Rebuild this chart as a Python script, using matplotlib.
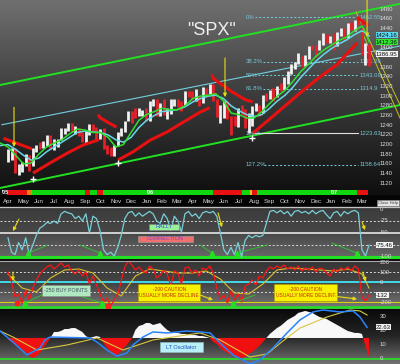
import numpy as np
import matplotlib
matplotlib.use("Agg")
import matplotlib.pyplot as plt
from matplotlib.colors import LinearSegmentedColormap
from matplotlib.patches import Rectangle

plt.rcParams['font.family'] = ['Liberation Sans', 'DejaVu Sans']

# ---------------- data ----------------
# weekly SPX bars, week ending 2005-04-01 ... 2007-03-16
spx_high = [1190, 1192, 1192, 1160, 1165,
            1180, 1178, 1192, 1199,
            1205, 1207, 1219, 1220,
            1212, 1212, 1235, 1235, 1245,
            1245, 1238, 1235, 1225,
            1228, 1243, 1243, 1236, 1232,
            1234, 1200, 1196, 1200,
            1225, 1235, 1249, 1270,
            1270, 1275, 1275, 1272, 1275,
            1290, 1295, 1295, 1286,
            1294, 1275, 1295, 1294,
            1295, 1290, 1310, 1310, 1310,
            1314, 1300, 1318, 1316,
            1326, 1326, 1295, 1281,
            1290, 1290, 1260, 1260, 1275,
            1282, 1274, 1265, 1280,
            1285, 1281, 1302, 1307,
            1312, 1316, 1322, 1328, 1340,
            1352, 1366, 1370, 1390,
            1382, 1384, 1403, 1405,
            1406, 1415, 1431, 1429, 1425,
            1430, 1432, 1441, 1440,
            1452, 1453, 1457, 1462,
            1456, 1410, 1408]
spx_low = [1163, 1168, 1142, 1137, 1143,
           1155, 1146, 1155, 1185,
           1190, 1192, 1197, 1190,
           1189, 1195, 1210, 1221, 1228,
           1225, 1222, 1218, 1205,
           1201, 1220, 1225, 1210, 1212,
           1191, 1181, 1176, 1176,
           1198, 1218, 1226, 1248,
           1245, 1255, 1258, 1259, 1248,
           1248, 1280, 1260, 1260,
           1262, 1253, 1263, 1280,
           1278, 1270, 1282, 1298, 1293,
           1290, 1280, 1286, 1300,
           1305, 1290, 1256, 1245,
           1255, 1252, 1219, 1238, 1237,
           1262, 1234, 1224, 1238,
           1270, 1260, 1265, 1290,
           1295, 1290, 1298, 1310, 1314,
           1326, 1345, 1357, 1366,
           1360, 1362, 1376, 1395,
           1380, 1395, 1405, 1410, 1409,
           1395, 1403, 1425, 1417,
           1420, 1437, 1434, 1448,
           1384, 1364, 1363]
spx_close = [1172, 1181, 1142, 1152, 1156,
             1171, 1154, 1189, 1198,
             1196, 1201, 1216, 1191,
             1211, 1211, 1228, 1234, 1234,
             1226, 1230, 1220, 1205,
             1218, 1241, 1237, 1215, 1229,
             1195, 1187, 1177, 1198,
             1220, 1234, 1248, 1268,
             1265, 1259, 1268, 1268, 1248,
             1285, 1288, 1262, 1283,
             1264, 1266, 1287, 1289,
             1288, 1282, 1307, 1302, 1295,
             1295, 1289, 1311, 1310,
             1325, 1291, 1267, 1280,
             1288, 1252, 1251, 1244, 1270,
             1265, 1236, 1240, 1278,
             1279, 1266, 1302, 1295,
             1311, 1299, 1321, 1314, 1336,
             1350, 1365, 1368, 1377,
             1364, 1380, 1401, 1400,
             1397, 1409, 1427, 1410, 1418,
             1409, 1430, 1430, 1422,
             1449, 1438, 1456, 1451,
             1387, 1402, 1387]

# moving averages (month index, 0 = Apr 2005)
ma_months = [-0.5, 0, 0.5, 1, 1.5, 2, 2.5, 3, 3.5, 4, 4.5, 5, 5.5, 6, 6.5, 7, 7.5,
             8, 8.5, 9, 9.5, 10, 10.5, 11, 11.5, 12, 12.5, 13, 13.5, 14, 14.5, 15,
             15.5, 16, 16.5, 17, 17.5, 18, 18.5, 19, 19.5, 20, 20.5, 21, 21.5, 22,
             22.5, 23, 23.25, 23.46]
ma_fast = [1203, 1195, 1178, 1160, 1162, 1180, 1195, 1203, 1210, 1222, 1232, 1230,
           1225, 1225, 1215, 1195, 1200, 1225, 1250, 1262, 1268, 1275, 1272, 1272,
           1280, 1295, 1300, 1302, 1305, 1290, 1265, 1262, 1255, 1255, 1268, 1285,
           1300, 1312, 1330, 1350, 1365, 1382, 1395, 1405, 1415, 1422, 1435, 1445,
           1430, 1412.36]
ma_slow = [1198, 1200, 1190, 1178, 1168, 1172, 1185, 1195, 1205, 1215, 1225, 1228,
           1226, 1225, 1220, 1210, 1205, 1215, 1235, 1250, 1260, 1268, 1270, 1272,
           1278, 1288, 1295, 1300, 1302, 1295, 1280, 1270, 1262, 1258, 1262, 1275,
           1290, 1302, 1318, 1338, 1355, 1372, 1386, 1398, 1408, 1416, 1427, 1435,
           1430, 1424.16]

# trailing stop segments (month, price)
stop_segments = [
    [(-0.3, 1213), (1.56, 1191)],
    [(1.62, 1141), (2.73, 1162), (3.83, 1182), (4.87, 1199), (5.9, 1210)],
    [(5.85, 1262), (6.0, 1255), (6.6, 1244), (7.05, 1236)],
    [(7.15, 1168), (8.12, 1185), (9.23, 1209), (10.33, 1226), (11.37, 1246),
     (12.48, 1267), (13.1, 1276)],
    [(13.25, 1345), (13.32, 1337), (14.55, 1309), (15.4, 1293), (15.9, 1288)],
    [(15.92, 1224), (16.9, 1250), (18.0, 1280), (19.1, 1310), (20.2, 1338),
     (21.4, 1366), (22.68, 1410)],
    [(22.68, 1463), (23.4, 1446)],
]
signal_marks = [(1.62, 1129), (7.15, 1162), (15.85, 1213)]

channel_upper = [(-0.52, 1323.0), (25.47, 1490.7)]
channel_mid = [(-0.4, 1241.0), (25.47, 1403.6)]
channel_lower = [(-0.52, 1110.3), (25.47, 1281.7)]
down_lines = [[(22.61, 1473.8), (25.47, 1281.8)],
              [(23.0, 1432.5), (25.47, 1254.9)]]
price_arrows = [((0.39, 1277), (0.39, 1195)),
                ((14.1, 1379), (14.1, 1298)),
                ((23.33, 1499), (23.33, 1422))]

fib_levels = [1462.55, 1371.26, 1343.09, 1314.9, 1223.63, 1158.64]
fib_names = ['0%', '38.2%', '50%', '61.8%', '100%', '127.2%']
fib_value_text = ['1462.55', '1371.26', '1343.09', '1314.9', '1223.63', '1158.64']
fib_start = [16.05, 16.57, 16.24, 16.57, 15.92, 16.63]
fib_end = 22.74

month_names = ['Apr', 'May', 'Jun', 'Jul', 'Aug', 'Sep', 'Oct', 'Nov', 'Dec',
               'Jan', 'Feb', 'Mar', 'Apr', 'May', 'Jun', 'Jul', 'Aug', 'Sep',
               'Oct', 'Nov', 'Dec', 'Jan', 'Feb', 'Mar']
trend_start = [-0.07, 1.23, 1.56, 5.0, 5.33, 5.78, 6.17, 13.32, 15.2, 15.72, 15.85, 16.18, 22.68]
trend_end = [1.23, 1.56, 5.0, 5.33, 5.78, 6.17, 13.32, 15.2, 15.72, 15.85, 16.18, 22.68, 23.39]
trend_color = ['#e81010', '#e88010', '#10d810', '#e81010', '#10d810', '#e81010', '#10d810',
               '#e81010', '#10d810', '#e8c010', '#e81010', '#10d810', '#e81010']

# weekly oscillators
williams = [-60, -90, -95, -70, -85, -60, -95, -75, -55, -40,
            -35, -28, -30, -25, -30, -10, -5, -8, -10, -20,
            -15, -25, -10, -50, -15, -20, -45, -85, -95, -90,
            -98, -80, -55, -20, -8, -5, -15, -8, -15, -10,
            -5, -10, -25, -30, -10, -20, -45, -15, -25, -48,
            -10, -5, -15, -10, -20, -8, -5, -8, -5, -15,
            -50, -85, -95, -80, -95, -70, -100, -65, -55, -60,
            -55, -58, -55, -30, -5, -3, -8, -3, -10, -5,
            -15, -5, -3, -8, -5, -10, -3, -10, -5, -3,
            -12, -20, -8, -5, -15, -5, -10, -5, -3, -8,
            -85, -98, -75.46]
cci = [100, 0, -150, -120, -210, -80, -180, -60, 20, 80,
       120, 150, 170, 130, 160, 190, 150, 170, 110, 80,
       120, 60, 100, -20, 60, -30, -120, -200, -160, -240,
       -180, -120, 10, 150, 210, 170, 120, 150, 110, 90,
       160, 130, 40, 70, 120, 80, -40, 110, 90, -20,
       140, 150, 90, 120, 60, 140, 120, 160, 90, -60,
       -170, -130, -210, -90, -180, -120, -200, -40, -20, 20,
       -30, 60, 40, 110, 150, 130, 160, 140, 170, 130,
       150, 120, 160, 110, 140, 120, 150, 100, 140, 130,
       90, 60, 130, 100, 140, 120, 150, 110, 160, 130,
       -150, -190, -132]
cci_sig_weeks = [0, 4, 8, 12, 16, 20, 24, 28, 32, 36, 40, 44, 48, 52, 56, 60, 64,
                 68, 72, 76, 80, 84, 88, 92, 96, 100, 102]
cci_sig = [80, -60, -100, 40, 120, 130, 90, -60, -140, 60, 130, 110, 90, 90, 110,
           30, -110, -120, -20, 120, 140, 130, 120, 110, 130, 80, -60]
lt_hist = [-1, -2.9, -5, -6.4, -8.6, -10, -12.9, -14.3, -12.9, -10.7,
           -7, -3.6, 0, 4.3, 4.3, 5, 6.4, 6.4, 7.1, 7.1,
           5.7, 4.3, 1.4, 0, 0.7, 1.4, 0.7, -3.6, -7, -10,
           -12, -12, -9.3, -6.4, -3.6, -0.7, 5.7, 8.6, 9.3, 10.7,
           10.7, 9.3, 10, 10.7, 8, 5.7, 4.3, 3.6, 3.6, 2.9,
           2.9, 2.1, 2.1, 2.1, 1.4, 1.4, 0.7, 0, -2.9, -4.3,
           -7, -9.3, -10.7, -12, -12.9, -14.3, -14.3, -13.6, -11.4, -10,
           -7.9, -5.7, -2.9, 0, 2.9, 5, 7.1, 8.6, 10.7, 12.9,
           14.3, 15.7, 17.9, 18.6, 19.3, 18.6, 17.9, 16.4, 15, 14.3,
           13.6, 12.1, 10.7, 9.3, 7.9, 6.4, 5, 4.3, 3.6, 3.6,
           2.9, -5.7, -13.6]
lt_base = 15
lt_blue_m = [-0.52, 0.32, 1.23, 2.08, 2.40, 2.73, 5.33, 5.78, 6.43, 7.08, 7.73, 8.12,
             8.77, 9.42, 10.33, 11.63, 12.48, 13.13, 13.78, 14.62, 15.27, 15.72, 16.37,
             17.22, 18.13, 18.97, 19.82, 20.47, 21.57, 22.42, 22.87, 23.33]
lt_blue = [20, 12.1, 2.9, 7.9, 13.6, 15.7, 15.0, 12.1, 6.4, 2.1, 4.3, 10.0, 15.7, 19.3,
           18.6, 20.0, 19.3, 18.6, 11.4, 2.9, -0.7, -3.6, -0.7, 7.9, 18.6, 27.9, 33.6,
           35.0, 33.6, 34.3, 30.0, 22.63]
lt_yel_m = [-0.52, 0.32, 1.88, 3.83, 5.78, 7.47, 9.42, 12.48, 13.78, 15.72, 16.83,
            17.87, 18.97, 20.73, 22.22, 22.87, 23.33]
lt_yel = [20, 15.7, 6.4, 10, 15, 6.4, 13.6, 18.6, 13.6, 1.4, 3.6, 12.9, 22.1, 30, 35,
          34.3, 31.4]

# ---------------- figure ----------------
W, H = 400, 364
XMIN, XMAX = -0.52, 25.47
YEL = '#e8dc10'
GRN = '#22e022'

fig = plt.figure(figsize=(4, 3.64), dpi=100)
fig.patch.set_facecolor('#0c0c0c')


def panel(y0, y1, ylo, yhi, colors=None):
    ax = fig.add_axes([0, 1 - y1 / H, 1, (y1 - y0) / H])
    ax.set_axis_off()
    if colors:
        cmap = LinearSegmentedColormap.from_list('bg', colors)
        ax.imshow(np.linspace(0, 1, 256)[:, None], cmap=cmap, aspect='auto',
                  extent=(XMIN, XMAX, ylo, yhi), origin='upper', zorder=0)
    ax.set_xlim(XMIN, XMAX)
    ax.set_ylim(ylo, yhi)
    return ax


def rlabel(ax, y, s, fc=None, color='#dcdcdc'):
    kw = {}
    x = 0.95
    if fc:
        kw['bbox'] = dict(boxstyle='square,pad=0.08', fc=fc, ec='none')
        color = '#101010'
        x = 0.94
    ax.text(x, y, s, transform=ax.get_yaxis_transform(), fontsize=4.3,
            color=color, va='center', ha='left', zorder=20, **kw)


def arrow(ax, tail, head, color=YEL):
    ax.annotate('', xy=head, xytext=tail,
                arrowprops=dict(arrowstyle='-|>', color=color, lw=0.8,
                                mutation_scale=5, shrinkA=0, shrinkB=0), zorder=15)


weeks = np.arange(len(spx_close))
week_m = weeks * 7 / 30.44

# ---- price panel ----
ax1 = panel(0, 190, 1106.2, 1498.6, ['#707070', '#3c3c3c', '#111111'])
for line, c, lw in [(channel_upper, GRN, 1.4), (channel_lower, GRN, 1.4),
                    (channel_mid, '#70d0e0', 0.8)]:
    xs, ys = zip(*line)
    ax1.plot(xs, ys, color=c, lw=lw, zorder=2)
for line in down_lines:
    xs, ys = zip(*line)
    ax1.plot(xs, ys, color='#c8c020', lw=0.7, zorder=2)

for lvl, name, txt, x0 in zip(fib_levels, fib_names, fib_value_text, fib_start):
    if name == '100%':
        ax1.plot([x0, fib_end], [lvl, lvl], color='#e0e0e0', lw=0.8, zorder=2)
    else:
        ax1.plot([x0, fib_end], [lvl, lvl], color='#70d0e0', lw=0.7,
                 ls=(0, (2, 2)), zorder=2)
    ax1.text(15.46, lvl, name, fontsize=4.3, color='#78c8d8', va='center', ha='left', zorder=2)
    ax1.text(fib_end + 0.08, lvl, txt, fontsize=4.3, color='#78c8d8', va='center',
             ha='left', zorder=2)

close = np.array(spx_close)
down = np.r_[False, close[1:] < close[:-1]]
bar_colors = np.where(down, '#e8202a', '#f2f2f2')
ax1.vlines(week_m, spx_low, spx_high, colors=bar_colors, lw=2.0, zorder=3)

ax1.plot(ma_months, ma_slow, color='#66d8ea', lw=1.1, zorder=4)
ax1.plot(ma_months, ma_fast, color='#30e030', lw=1.1, zorder=4)
for seg in stop_segments:
    xs, ys = zip(*seg)
    ax1.plot(xs, ys, color='#e81010', lw=2.2, zorder=5, solid_capstyle='butt')
for mx, my in signal_marks:
    ax1.plot(mx, my, marker='+', color='white', ms=4, mew=1.0, zorder=6)
for tail, head in price_arrows:
    arrow(ax1, tail, head)

ax1.text(0.53, 0.842, '"SPX"', transform=ax1.transAxes, fontsize=13, color='#f0f0f0',
         ha='center', va='center')
# tick labels hidden behind the value boxes are left out
for v in range(1100, 1481, 20):
    if v not in (1380, 1420):
        rlabel(ax1, v, str(v))
rlabel(ax1, 1425.5, '1424.16', fc='#58d8f0')
rlabel(ax1, 1411.0, '1412.36', fc='#30e830')
rlabel(ax1, spx_close[-1] - 0.05, '1386.95', fc='#f4f4f4')

# ---- trend bar and month labels ----
axb = panel(190, 195, 0, 1)
axb.add_patch(Rectangle((XMIN, 0), XMAX - XMIN, 1, color='#101010', zorder=0))
for s, e, c in zip(trend_start, trend_end, trend_color):
    axb.add_patch(Rectangle((s, 0), e - s, 1, color=c, lw=0, zorder=1))
for txt, mx in [("'05", -0.42), ("'06", 9.0), ("'07", 21.0)]:
    axb.text(mx, 0.5, txt, fontsize=3.8, color='white', va='center', ha='left',
             fontweight='bold', zorder=2)

axm = panel(195, 206, 0, 1)
axm.add_patch(Rectangle((XMIN, 0), XMAX - XMIN, 1, color='#050505', zorder=0))
for i, name in enumerate(month_names):
    axm.text(i, 0.45, name, fontsize=4.5, color='#d8d8d8', ha='center', va='center')
fig.text(388 / W, 1 - 203 / H, 'Close Help', fontsize=3, color='#404040', ha='center',
         va='center', bbox=dict(boxstyle='square,pad=0.2', fc='#e4e4e4', ec='#909090', lw=0.4))
fig.add_artist(plt.Line2D([0, 1], [1 - 206.8 / H] * 2, color='#c4c4c4', lw=0.9))

# ---- Williams %R panel ----
ax2 = panel(207, 259, -104.2, 4.17, ['#3a3a3a', '#474747', '#6a6a6a'])
ax2.axhline(-25, color='#d8d8d8', lw=0.7, ls=(0, (2, 2)))
ax2.axhline(-50, color='#cfcfcf', lw=1.4)
ax2.axhline(-75, color='#d8d8d8', lw=0.7, ls=(0, (2, 2)))
ax2.axhline(-100, color=GRN, lw=2.2)
ax2.plot(week_m, williams, color='#78cfd8', lw=0.9, zorder=5)
for (x0, y0), (x1, y1) in [((2.6, -75), (1.3, -92)), ((4.68, -75), (5.98, -92)),
                           ((12.48, -75), (13.26, -92)), ((16.83, -75), (14.88, -92)),
                           ((21.05, -71), (22.68, -92))]:
    ax2.plot([x0, x1], [y0, y1], color='#30c030', lw=0.7, zorder=6)
    ax2.plot(x1, y1, marker='^', color=GRN, ms=3.2, zorder=7)
arrow(ax2, (0.71, -21), (0.32, -46))
arrow(ax2, (13.65, -8), (13.9, -38))
arrow(ax2, (23.0, -27), (23.2, -44))
ax2.add_patch(Rectangle((9.16, -43.75), 1.95, 12.5, fc='#98f098', ec='#808080', lw=0.4, zorder=8))
ax2.text(10.135, -37.5, 'RALLY', fontsize=4, color='#3050d8', ha='center', va='center', zorder=9)
ax2.add_patch(Rectangle((8.45, -68.75), 3.57, 12.5, fc='#f07070', ec='#a0a0a0', lw=0.4, zorder=8))
ax2.text(10.235, -62.5, 'CORRECTION', fontsize=4, color='#7a3cc8', ha='center', va='center', zorder=9)
for v, s in [(0, '0'), (-25, '-25'), (-50, '-50'), (-100, '-100')]:
    rlabel(ax2, v, s)
rlabel(ax2, williams[-1], '-75.46', fc='#f4f4f4')

fig.add_artist(plt.Line2D([0, 1], [1 - 260.5 / H] * 2, color='#a8a8a8', lw=0.8))

# ---- CCI panel ----
ax3 = panel(261, 309, -270, 210, ['#363636', '#464646', '#7a7a7a'])
ax3.axhline(100, color='#d8d8d8', lw=0.7, ls=(0, (2, 2)))
ax3.axhline(0, color='#40d8e8', lw=1.4)
ax3.axhline(-100, color='#d8d8d8', lw=0.7, ls=(0, (2, 2)))
ax3.axhline(-200, color='#d8d010', lw=0.8)
ax3.axhline(-250, color=GRN, lw=1.8)
ax3.plot(np.array(cci_sig_weeks) * 7 / 30.44, cci_sig, color='#d8c030', lw=0.8, zorder=4)
ax3.plot(week_m, cci, color='#ff1414', lw=0.9, zorder=5)
for (x0, y0), (x1, y1) in [((2.2, -130), (1.1, -210)), ((4.68, -140), (6.1, -210)),
                           ((16.05, -130), (14.62, -210))]:
    ax3.plot([x0, x1], [y0, y1], color='#30c030', lw=0.7, zorder=6)
    ax3.plot(x1, y1, marker='^', color=GRN, ms=3.2, zorder=7)
ax3.plot([0.58, 6.5], [-210, -240], ls='none', marker='s', color='#ff2020', ms=2.2, zorder=7)
arrow(ax3, (0.32, 100), (0.32, 10))
arrow(ax3, (12.48, -130), (13.32, -180))
arrow(ax3, (21.1, -140), (22.68, -170))
arrow(ax3, (23.05, 100), (23.25, 5))
ax3.add_patch(Rectangle((2.21, -140), 3.12, 110, fc='#b0e8c0', ec='#909090', lw=0.4, zorder=8))
ax3.text(3.77, -85, '-250 BUY POINTS', fontsize=3.8, color='#405060', ha='center', va='center', zorder=9)
for x0, w in [(8.45, 4.03), (17.28, 4.1)]:
    ax3.add_patch(Rectangle((x0, -185), w, 165, fc='#f8f000', ec='#b0a000', lw=0.4, zorder=8))
    ax3.text(x0 + w / 2, -102, '-200 CAUTION\nUSUALLY MORE DECLINE', fontsize=3.5,
             color='#c03010', ha='center', va='center', linespacing=1.3, zorder=9)
for v, s in [(200, '200'), (100, '100'), (0, '0'), (-200, '-200')]:
    rlabel(ax3, v, s)
rlabel(ax3, cci[-1], '-132', fc='#f4f4f4')

# ---- LT oscillator panel ----
ax4 = panel(309, 364, -3.57, 35.7, ['#0a0a0a', '#262626', '#727272'])
hist = np.array(lt_hist)
ax4.fill_between(week_m, lt_base, lt_base + hist, where=hist >= 0, interpolate=True,
                 color='#f8f8f8', lw=0, zorder=2)
ax4.fill_between(week_m, lt_base, lt_base + hist, where=hist <= 0, interpolate=True,
                 color='#f01010', lw=0, zorder=2)
ax4.axhline(0, color='#30d030', lw=1.4)
ax4.plot(lt_yel_m, lt_yel, color='#d8c840', lw=0.8, zorder=4)
ax4.plot(lt_blue_m, lt_blue, color='#2a84ff', lw=1.1, zorder=5)
ax4.add_patch(Rectangle((9.88, 5.0), 2.79, 7.1, fc='#b8f0f8', ec='#90c0c8', lw=0.4, zorder=8))
ax4.text(11.27, 8.55, 'LT Oscillator', fontsize=4, color='#2050c0', ha='center', va='center', zorder=9)
for v in [30, 20, 10, 0]:
    rlabel(ax4, v, str(v))
rlabel(ax4, lt_blue[-1], '22.63', fc='#f4f4f4')

fig.savefig('out.png', dpi=100, facecolor=fig.get_facecolor())
